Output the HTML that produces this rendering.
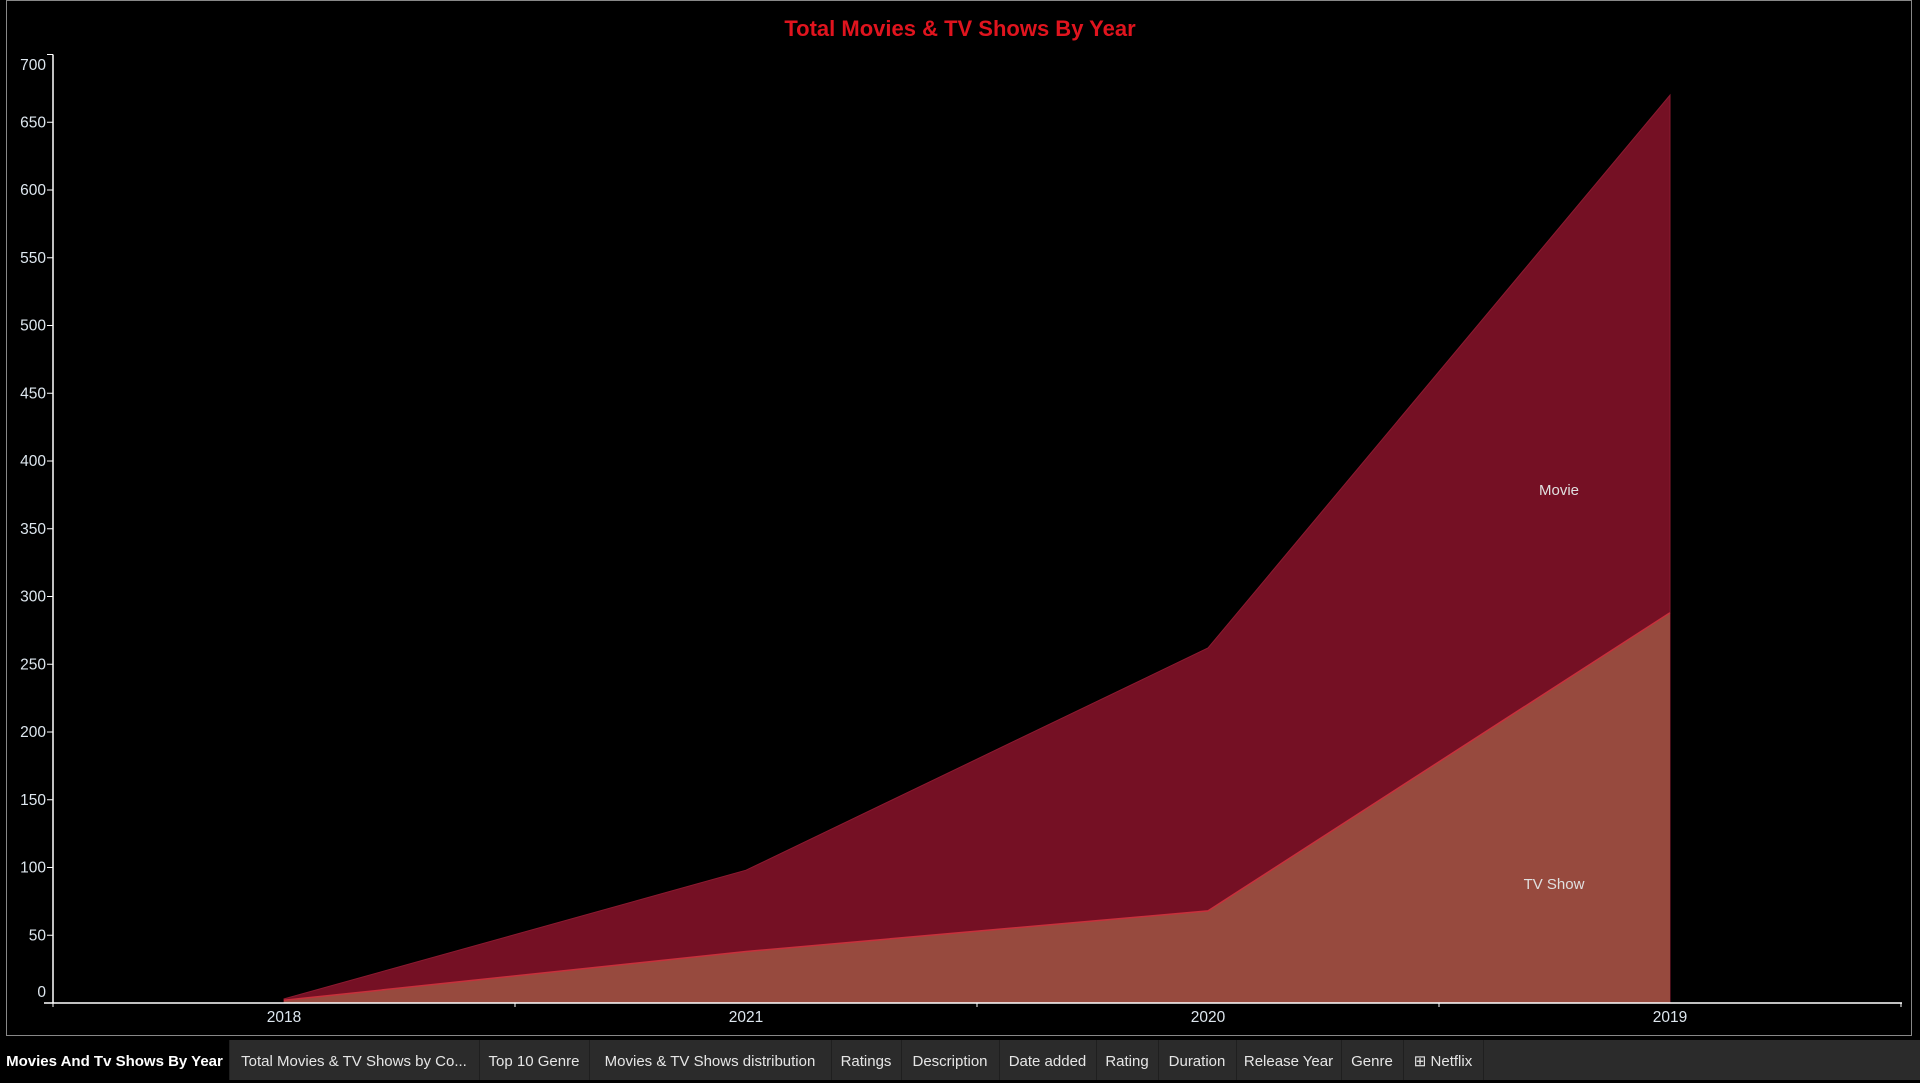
<!DOCTYPE html>
<html><head><meta charset="utf-8"><style>
body{margin:0;background:#000;width:1920px;height:1080px;overflow:hidden;font-family:"Liberation Sans",sans-serif}
#tabs{position:absolute;left:0;top:1040px;width:1920px;height:40px;background:#2b2b2b}
.tab{position:absolute;top:0;height:40px;line-height:43px;color:#e6e6e6;font-size:15px;text-align:center;border-right:1px solid #1f1f1f;white-space:nowrap}
</style></head><body>
<svg id="chart" width="1920" height="1040" style="position:absolute;left:0;top:0">
<rect x="6.5" y="0.5" width="1905" height="1035" fill="none" stroke="#888"/>
<text x="960" y="36" text-anchor="middle" fill="#e0141e" font-size="22" font-weight="bold">Total Movies &amp; TV Shows By Year</text>
<g id="plot"></g>
</svg>
<div id="tabs"></div>
<script>
const categories=["2018","2021","2020","2019"];
const tvValues=[2,38,68,288];
const movieValues=[1,60,194,382];
const yTicks=[0,50,100,150,200,250,300,350,400,450,500,550,600,650,700];
const NS="http://www.w3.org/2000/svg";
const g=document.getElementById('plot');
const X0=53,BW=462,Y0=1003,K=1.355;
function xs(i){return X0+BW*(i+0.5);}
function ys(v){return Y0-v*K;}
function el(t,a){const e=document.createElementNS(NS,t);for(const k in a)e.setAttribute(k,a[k]);g.appendChild(e);return e;}
const totals=categories.map((c,i)=>tvValues[i]+movieValues[i]);
const first=xs(0),last=xs(categories.length-1);
let mp="M"+first+","+Y0;categories.forEach((c,i)=>mp+=" L"+xs(i)+","+ys(totals[i]));mp+=" L"+last+","+Y0+"Z";
let m=el('path',{d:mp,fill:'#751024',stroke:'#8c1a30','stroke-width':1});


let tp="M"+first+","+Y0;categories.forEach((c,i)=>tp+=" L"+xs(i)+","+ys(tvValues[i]));tp+=" L"+last+","+Y0+"Z";
let t=el('path',{d:tp,fill:'#974a3e'});


let tl="M"+first+","+ys(tvValues[0]);categories.forEach((c,i)=>tl+=" L"+xs(i)+","+ys(tvValues[i]));
let tline=el('path',{d:tl,fill:'none',stroke:'#c8303c','stroke-width':1.5});


let ya=el('line',{x1:53,y1:ys(700),x2:53,y2:Y0,stroke:'#fff','stroke-width':1.5});


let xa=el('line',{x1:44,y1:Y0,x2:1902,y2:Y0,stroke:'#fff','stroke-width':1.5});


yTicks.forEach(v=>{
 const tk=el('line',{x1:47,x2:53,y1:ys(v),y2:ys(v),stroke:'#fff'});
 
 
 let ty=ys(v);
 if(ty<65)ty=65;
 if(v===0)ty=Y0-11;
 const tx=el('text',{x:46,y:ty+5,'text-anchor':'end',fill:'#dde6ee','font-size':15.5});
 tx.textContent=v;
 
 
});
for(let i=0;i<=categories.length;i++){
 const tk=el('line',{x1:X0+BW*i,x2:X0+BW*i,y1:Y0,y2:Y0+4,stroke:'#fff'});
 
 
}
categories.forEach((c,i)=>{
 const tx=el('text',{x:xs(i),y:1022,'text-anchor':'middle',fill:'#dde6ee','font-size':15.5});
 tx.textContent=c;
 
 
});
const ml=el('text',{x:1559,y:495,'text-anchor':'middle',fill:'#e0e0e0','font-size':15});
ml.textContent='Movie';


const tvl=el('text',{x:1554,y:889,'text-anchor':'middle',fill:'#e0e0e0','font-size':15});
tvl.textContent='TV Show';


const tabNames=["Movies And Tv Shows By Year","Total Movies & TV Shows by Co...","Top 10 Genre","Movies & TV Shows distribution","Ratings","Description","Date added","Rating","Duration","Release Year","Genre","⊞ Netflix"];
const edges=[0,229,479,589,831,901,999,1096,1158,1236,1341,1403,1483];
const tb=document.getElementById('tabs');
tabNames.forEach((n,i)=>{
 const d=document.createElement('div');
 d.className='tab';
 d.style.left=edges[i]+'px';d.style.width=(edges[i+1]-edges[i])+'px';
 if(i===0){d.style.background='#000';d.style.color='#fff';d.style.fontWeight='bold';}
 d.textContent=n;
 
 
 tb.appendChild(d);
});
</script>
</body></html>
